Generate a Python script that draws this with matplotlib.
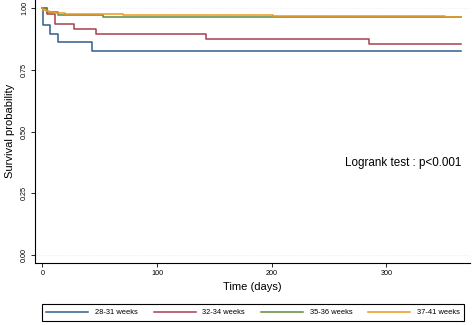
import matplotlib
matplotlib.use("Agg")
import matplotlib.pyplot as plt

plt.rcParams['font.family'] = ['Liberation Sans', 'DejaVu Sans']

groups = ["28-31 weeks", "32-34 weeks", "35-36 weeks", "37-41 weeks"]
colors = ["#2f5d8c", "#a8404b", "#5e8a3a", "#f0961e"]

# step-function survival curves: event times (days) and survival after each step
t_2831 = [0, 1, 7, 14, 43, 365]
s_2831 = [1.0, 0.931, 0.896, 0.862, 0.828, 0.828]

t_3234 = [0, 4, 11, 28, 47, 143, 285, 365]
s_3234 = [1.0, 0.977, 0.936, 0.916, 0.896, 0.874, 0.854, 0.854]

t_3536 = [0, 4, 14, 53, 365]
s_3536 = [1.0, 0.985, 0.974, 0.966, 0.966]

t_3741 = [0, 1, 3, 6, 10, 20, 40, 70, 201, 351, 365]
s_3741 = [1.0, 0.995, 0.99, 0.986, 0.982, 0.979, 0.976, 0.974, 0.970, 0.967, 0.967]

curves = [(t_2831, s_2831), (t_3234, s_3234), (t_3536, s_3536), (t_3741, s_3741)]

xticks = [0, 100, 200, 300]
yticks = [0.0, 0.25, 0.5, 0.75, 1.0]
ytick_labels = ["0.00", "0.25", "0.50", "0.75", "1.00"]

fig = plt.figure(figsize=(4.72, 3.25), dpi=100)
ax = fig.add_axes([35/472, 1-262.7/325, (470-35)/472, 262.7/325])

for (t, s), c, g in zip(curves, colors, groups):
    ax.step(t, s, where='post', color=c, lw=1.1, label=g)

ax.set_xlim(-6.4, 372.9)
ax.set_ylim(-0.032, 1.034)
ax.set_xticks(xticks)
ax.set_yticks(yticks)
ax.set_yticklabels(ytick_labels, rotation=90, va='center')
ax.tick_params(axis='both', labelsize=5.2, length=3, width=0.6, pad=2)
for sp in ['top', 'right']:
    ax.spines[sp].set_visible(False)
for sp in ['left', 'bottom']:
    ax.spines[sp].set_linewidth(0.8)
for yv in [0.0, 1.0]:
    ax.axhline(yv, color='#e6e6e6', lw=0.5, ls=':', zorder=0)

ax.set_xlabel("Time (days)", fontsize=8, labelpad=4)
ax.set_ylabel("Survival probability", fontsize=8, labelpad=4)

ax.text(315, 0.372, "Logrank test : p<0.001", fontsize=8.4, ha='center', va='center')

leg = fig.legend(*ax.get_legend_handles_labels(), loc='center',
                 bbox_to_anchor=(38/472, 1-323/325, (468-38)/472, 21/325),
                 mode='expand', ncol=4, fontsize=5.4, handlelength=5.6,
                 handletextpad=0.9, columnspacing=2.2, fancybox=False,
                 borderpad=0.6, edgecolor='black', framealpha=1)
leg.get_frame().set_linewidth(0.8)

fig.savefig("out.png", dpi=100)
